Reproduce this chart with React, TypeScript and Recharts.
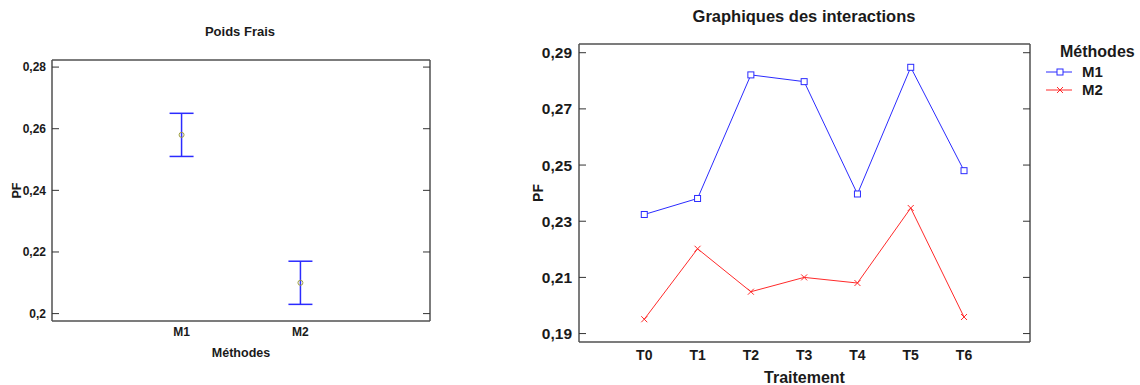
import React from 'react'
import { ScatterChart, Scatter, LineChart, Line, XAxis, YAxis, ErrorBar } from 'recharts'

// Poids Frais (moyennes + intervalles)
const methods = ['M1', 'M2']
const pfMeans = [0.258, 0.21]
const pfLow = [0.251, 0.203]
const pfHigh = [0.265, 0.217]
const leftTicks = [0.2, 0.22, 0.24, 0.26, 0.28]

// Graphiques des interactions
const treatments = ['T0', 'T1', 'T2', 'T3', 'T4', 'T5', 'T6']
const m1Values = [0.2324, 0.2381, 0.2821, 0.2797, 0.2397, 0.2848, 0.248]
const m2Values = [0.1951, 0.2202, 0.2049, 0.21, 0.208, 0.2347, 0.1959]
const rightTicks = [0.19, 0.21, 0.23, 0.25, 0.27, 0.29]

const FONT = '"Liberation Sans", Arial, sans-serif'
const FRAME = '#505050'
const BLUE = '#2b2bff'
const RED = '#ff2a2a'
const TEXT = '#1a1a1a'

const fmt = (v: number) => String(+v.toFixed(2)).replace('.', ',')
const txt = (size: number) => ({ fontSize: size, fontWeight: 700, fill: TEXT, fontFamily: FONT })

const leftData = methods.map((m, i) => ({
  x: i + 1,
  mean: pfMeans[i],
  err: [pfMeans[i] - pfLow[i], pfHigh[i] - pfMeans[i]],
}))

const rightData = treatments.map((t, i) => ({ t: i, m1: m1Values[i], m2: m2Values[i] }))

const leftX: [number, number] = [-0.09, 3.09]
const leftY: [number, number] = [0.1976, 0.2823]
const rightX: [number, number] = [-1.225, 7.238]
const rightY: [number, number] = [0.187, 0.2931]

const SquareDot = (props: any) => {
  const { cx, cy } = props
  if (cx == null || cy == null) return null
  return <rect x={cx - 3} y={cy - 3} width={6} height={6} fill="#fff" stroke={BLUE} strokeWidth={1} />
}

const CrossDot = (props: any) => {
  const { cx, cy } = props
  if (cx == null || cy == null) return null
  return (
    <g stroke={RED} strokeWidth={1}>
      <line x1={cx - 3} y1={cy - 3} x2={cx + 3} y2={cy + 3} />
      <line x1={cx - 3} y1={cy + 3} x2={cx + 3} y2={cy - 3} />
    </g>
  )
}

const MeanDot = (props: any) => {
  const { cx, cy } = props
  return <circle cx={cx} cy={cy} r={2.5} fill="none" stroke="#a0a040" strokeWidth={1} />
}

const empty = () => ''

function LegendItem({ label, color, marker, top }: { label: string; color: string; marker: 'square' | 'cross'; top: number }) {
  return (
    <>
      <svg width={27} height={10} style={{ position: 'absolute', left: 1046, top: top - 5 }}>
        <line x1={0} y1={5} x2={26} y2={5} stroke={color} strokeWidth={1} />
        {marker === 'square' ? (
          <rect x={11} y={2} width={6} height={6} fill="#fff" stroke={color} />
        ) : (
          <g stroke={color}>
            <line x1={11} y1={2} x2={17} y2={8} />
            <line x1={11} y1={8} x2={17} y2={2} />
          </g>
        )}
      </svg>
      <div style={{ position: 'absolute', left: 1082, top: top - 9, fontSize: 15, fontWeight: 700, color: TEXT, lineHeight: '18px' }}>
        {label}
      </div>
    </>
  )
}

export default function App() {
  return (
    <div style={{ position: 'absolute', left: 0, top: 0, width: 1140, height: 385, background: '#fff', fontFamily: FONT, overflow: 'hidden' }}>
      {/* Poids Frais */}
      <div style={{ position: 'absolute', left: 140, width: 200, top: 24, textAlign: 'center', fontSize: 13, fontWeight: 700, color: TEXT, lineHeight: '16px' }}>
        Poids Frais
      </div>
      <div style={{ position: 'absolute', left: 0, top: 0 }}>
        <ScatterChart width={440} height={385} margin={{ top: 60, right: 10, bottom: 24, left: 0 }}>
          <XAxis
            dataKey="x"
            type="number"
            domain={leftX}
            ticks={[1, 2]}
            tickFormatter={(v: number) => methods[v - 1]}
            tick={txt(12)}
            tickLine={false}
            tickMargin={0}
            height={40}
            axisLine={{ stroke: FRAME, strokeWidth: 1.5 }}
            allowDataOverflow
            label={{ value: 'Méthodes', position: 'insideBottom', offset: 4, style: txt(12.5) }}
          />
          <XAxis xAxisId="top" orientation="top" mirror type="number" domain={leftX} ticks={[1, 2]} tickFormatter={empty} tickLine={false} axisLine={{ stroke: FRAME, strokeWidth: 1.5 }} allowDataOverflow />
          <YAxis
            dataKey="mean"
            type="number"
            domain={leftY}
            ticks={leftTicks}
            tickFormatter={fmt}
            tick={txt(12)}
            tickLine={false}
            tickMargin={0}
            width={52}
            axisLine={{ stroke: FRAME, strokeWidth: 1.5 }}
            allowDataOverflow
            label={{ value: 'PF', angle: -90, position: 'insideLeft', offset: 17, style: { ...txt(12.5), textAnchor: 'middle' } }}
          />
          <YAxis yAxisId="lm" mirror type="number" domain={leftY} ticks={leftTicks} tickFormatter={empty} tickSize={7} tickLine={{ stroke: '#333' }} axisLine={false} allowDataOverflow />
          <YAxis yAxisId="rm" orientation="right" mirror type="number" domain={leftY} ticks={leftTicks} tickFormatter={empty} tickSize={7} tickLine={{ stroke: '#333' }} axisLine={{ stroke: FRAME, strokeWidth: 1.5 }} allowDataOverflow />
          <Scatter data={leftData} dataKey="mean" shape={MeanDot} isAnimationActive={false}>
            <ErrorBar dataKey="err" direction="y" width={12} stroke={BLUE} strokeWidth={1.5} />
          </Scatter>
        </ScatterChart>
      </div>

      {/* Graphiques des interactions */}
      <div style={{ position: 'absolute', left: 654, width: 300, top: 6, textAlign: 'center', fontSize: 16.5, fontWeight: 700, color: TEXT, lineHeight: '20px' }}>
        Graphiques des interactions
      </div>
      <div style={{ position: 'absolute', left: 520, top: 0 }}>
        <LineChart width={620} height={385} data={rightData} margin={{ top: 44, right: 110, bottom: 0, left: 0 }}>
          <XAxis
            dataKey="t"
            type="number"
            domain={rightX}
            ticks={treatments.map((_, i) => i)}
            tickFormatter={(v: number) => treatments[v]}
            tick={txt(14)}
            tickLine={false}
            tickMargin={2}
            height={43}
            axisLine={{ stroke: FRAME, strokeWidth: 1.5 }}
            allowDataOverflow
            label={{ value: 'Traitement', position: 'insideBottom', offset: 2, style: txt(16) }}
          />
          <XAxis xAxisId="top" orientation="top" mirror type="number" domain={rightX} ticks={[0]} tickFormatter={empty} tickLine={false} axisLine={{ stroke: FRAME, strokeWidth: 1.5 }} allowDataOverflow />
          <YAxis
            type="number"
            domain={rightY}
            ticks={rightTicks}
            tickFormatter={fmt}
            tick={txt(15.5)}
            tickLine={false}
            tickMargin={1}
            width={59}
            axisLine={{ stroke: FRAME, strokeWidth: 1.5 }}
            allowDataOverflow
            label={{ value: 'PF', angle: -90, position: 'insideLeft', offset: 18, style: { ...txt(14), textAnchor: 'middle' } }}
          />
          <YAxis yAxisId="lm" mirror type="number" domain={rightY} ticks={rightTicks} tickFormatter={empty} tickSize={7} tickLine={{ stroke: '#333' }} axisLine={false} allowDataOverflow />
          <YAxis yAxisId="rm" orientation="right" mirror type="number" domain={rightY} ticks={rightTicks} tickFormatter={empty} tickSize={7} tickLine={{ stroke: '#333' }} axisLine={{ stroke: FRAME, strokeWidth: 1.5 }} allowDataOverflow />
          <Line dataKey="m1" name="M1" stroke={BLUE} strokeWidth={1} dot={SquareDot} activeDot={false} isAnimationActive={false} />
          <Line dataKey="m2" name="M2" stroke={RED} strokeWidth={1} dot={CrossDot} activeDot={false} isAnimationActive={false} />
        </LineChart>
      </div>

      {/* Légende */}
      <div style={{ position: 'absolute', left: 1060, top: 42, fontSize: 16, fontWeight: 700, color: TEXT, lineHeight: '20px', whiteSpace: 'nowrap' }}>
        Méthodes
      </div>
      <LegendItem label="M1" color={BLUE} marker="square" top={72} />
      <LegendItem label="M2" color={RED} marker="cross" top={90} />
    </div>
  )
}
